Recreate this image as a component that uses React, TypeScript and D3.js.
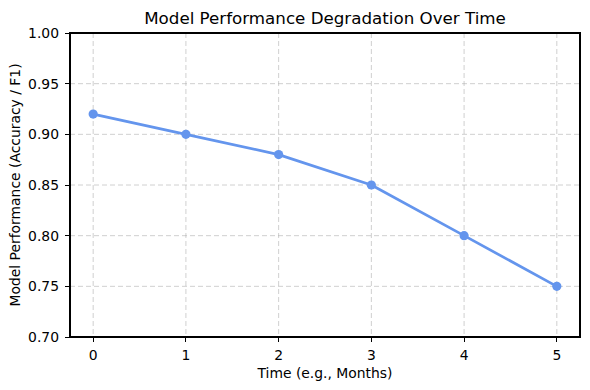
import * as d3 from 'd3';
import React from 'react';

const months = [0, 1, 2, 3, 4, 5];
const performance = [0.92, 0.9, 0.88, 0.85, 0.8, 0.75];
const yTicks = [0.7, 0.75, 0.8, 0.85, 0.9, 0.95, 1.0];

const W = 590;
const H = 390;
const margin = { top: 33, right: 10, bottom: 53, left: 70 };
const color = '#6495ED';
const font = 'DejaVu Sans, sans-serif';

const App: React.FC = () => {
  const innerW = W - margin.left - margin.right;
  const innerH = H - margin.top - margin.bottom;

  const x = d3.scaleLinear().domain([-0.25, 5.25]).range([0, innerW]);
  const y = d3.scaleLinear().domain([0.7, 1.0]).range([innerH, 0]);

  const line = d3
    .line<number>()
    .x((_, i) => x(months[i]))
    .y((d) => y(d));

  return (
    <svg width={W} height={H} style={{ position: 'absolute', left: 0, top: 0 }}>
      <rect width={W} height={H} fill="#fff" />
      <g transform={`translate(${margin.left},${margin.top})`} fontFamily={font}>
        {/* grid */}
        {months.map((m) => (
          <line key={'gx' + m} x1={x(m)} x2={x(m)} y1={0} y2={innerH} stroke="#b0b0b0" strokeOpacity={0.6} strokeDasharray="5,3" strokeWidth={1} />
        ))}
        {yTicks.map((t) => (
          <line key={'gy' + t} x1={0} x2={innerW} y1={y(t)} y2={y(t)} stroke="#b0b0b0" strokeOpacity={0.6} strokeDasharray="5,3" strokeWidth={1} />
        ))}

        {/* series */}
        <path d={line(performance) ?? ''} fill="none" stroke={color} strokeWidth={2.7} strokeLinejoin="round" />
        {performance.map((v, i) => (
          <circle key={i} cx={x(months[i])} cy={y(v)} r={4.6} fill={color} />
        ))}

        {/* frame */}
        <rect x={0} y={0} width={innerW} height={innerH} fill="none" stroke="#000" strokeWidth={1.1} shapeRendering="crispEdges" />

        {/* x ticks */}
        {months.map((m) => (
          <g key={'tx' + m} transform={`translate(${x(m)},${innerH})`}>
            <line y2={4.9} stroke="#000" strokeWidth={1} shapeRendering="crispEdges" />
            <text y={22.5} textAnchor="middle" fontSize={13.9}>{m}</text>
          </g>
        ))}
        {/* y ticks */}
        {yTicks.map((t) => (
          <g key={'ty' + t} transform={`translate(0,${y(t)})`}>
            <line x2={-4.9} stroke="#000" strokeWidth={1} shapeRendering="crispEdges" />
            <text x={-11} dy="0.36em" textAnchor="end" fontSize={13.9}>{t.toFixed(2)}</text>
          </g>
        ))}

        <text x={innerW / 2} y={-9} textAnchor="middle" fontSize={16.7}>
          Model Performance Degradation Over Time
        </text>
        <text x={innerW / 2} y={innerH + 41} textAnchor="middle" fontSize={13.9}>
          Time (e.g., Months)
        </text>
        <text transform={`translate(${-50},${innerH / 2}) rotate(-90)`} textAnchor="middle" fontSize={13.9}>
          Model Performance (Accuracy / F1)
        </text>
      </g>
    </svg>
  );
};

export default App;
